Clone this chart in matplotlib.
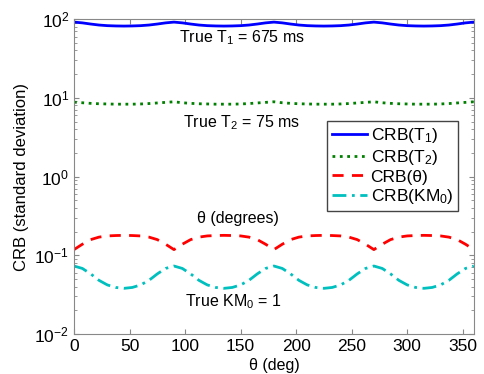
import matplotlib.pyplot as plt
import numpy as np

plt.rcParams['font.family'] = ['Liberation Sans', 'DejaVu Sans']
plt.rcParams['font.size'] = 11.5
plt.rcParams['mathtext.fontset'] = 'custom'
plt.rcParams['mathtext.rm'] = 'Liberation Sans'
plt.rcParams['mathtext.it'] = 'Liberation Sans'

# angle in degrees, 7.5 deg steps
theta = np.arange(0, 360.1, 7.5)

# one quarter (0..90), repeated for 4 quarters
t1_q = [91.5, 89.5, 86.5, 84.0, 82.5, 81.8, 81.5, 81.8, 82.5, 84.0, 86.5, 89.5, 91.5]
t2_q = [8.8, 8.65, 8.5, 8.4, 8.35, 8.3, 8.3, 8.3, 8.35, 8.45, 8.6, 8.75, 8.9]
th_q = [0.118, 0.138, 0.158, 0.170, 0.176, 0.178, 0.179, 0.178, 0.176, 0.170, 0.158, 0.138, 0.118]
km_q = [0.073, 0.068, 0.058, 0.048, 0.042, 0.039, 0.038, 0.039, 0.042, 0.048, 0.058, 0.068, 0.073]

crb_t1 = t1_q + t1_q[1:] * 3
crb_t2 = t2_q + t2_q[1:] * 3
crb_th = th_q + th_q[1:] * 3
crb_km = km_q + km_q[1:] * 3

fig = plt.figure(figsize=(4.85, 3.74), dpi=100)
ax = fig.add_axes([0.1526, 0.107, 0.8244, 0.842])

ax.semilogy(theta, crb_t1, color='#0000ff', lw=2, label='CRB(T$_1$)')
ax.semilogy(theta, crb_t2, color='#008000', lw=2, ls=':', label='CRB(T$_2$)')
ax.semilogy(theta, crb_th, color='#ff0000', lw=2, ls=(0, (4, 3)), label='CRB(θ)')
ax.semilogy(theta, crb_km, color='#00bfbf', lw=2, ls=(0, (5, 2, 1, 2)), label='CRB(KM$_0$)')

ax.set_xlim(0, 360)
ax.set_ylim(1e-2, 1e2)
ax.set_xticks(range(0, 361, 50))
ax.set_xlabel('θ (deg)', labelpad=3)
ax.set_ylabel('CRB (standard deviation)', fontsize=12)
ax.tick_params(which='both', direction='in', top=True, right=True, color='#888888',
               labelsize=12.5)
for s in ax.spines.values():
    s.set_color('#888888')

ax.text(151, 58, 'True T$_1$ = 675 ms', ha='center', va='center')
ax.text(151, 4.8, 'True T$_2$ = 75 ms', ha='center', va='center')
ax.text(148, 0.29, 'θ (degrees)', ha='center', va='center')
ax.text(143, 0.026, 'True KM$_0$ = 1', ha='center', va='center')

leg = ax.legend(loc='upper right', bbox_to_anchor=(0.983, 0.704), handlelength=2.0,
                handletextpad=0.2, borderpad=0.3, labelspacing=0.15, fancybox=False,
                framealpha=1, fontsize=12.5)
leg.get_frame().set_edgecolor('#444444')

fig.savefig('out.png', dpi=100)
